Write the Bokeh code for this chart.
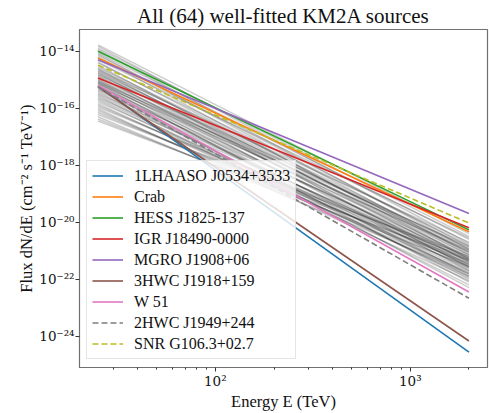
import numpy as np
from bokeh.plotting import figure
from bokeh.models import Range1d, FixedTicker, CustomJSTickFormatter, Legend, LegendItem
from bokeh.embed import file_html
from bokeh.resources import INLINE

# Energy span of every fitted spectrum (TeV)
energy = [25.0, 2000.0]

# Highlighted sources: log10 flux at 25 TeV and at 2000 TeV
names = ["1LHAASO J0534+3533", "Crab", "HESS J1825-137", "IGR J18490-0000",
         "MGRO J1908+06", "3HWC J1918+159", "W 51", "2HWC J1949+244", "SNR G106.3+02.7"]
log_flux_lo = [-15.22, -14.24, -14.00, -14.94, -14.30, -15.25, -15.20, -15.25, -14.49]
log_flux_hi = [-24.56, -20.34, -20.27, -20.20, -19.70, -24.17, -22.45, -22.67, -20.03]
colors = ["#1f77b4", "#ff7f0e", "#2ca02c", "#d62728", "#9467bd",
          "#8c564b", "#e377c2", "#7f7f7f", "#bcbd22"]
dashes = ["solid"] * 7 + ["6 3", "6 3"]

# Remaining sources (gray): log10 flux at 25 TeV and 2000 TeV
gray_lo = [-13.78, -13.83, -13.90, -13.95, -14.06, -14.10, -14.15, -14.20, -14.30, -14.38,
           -14.42, -14.50, -14.55, -14.60, -14.63, -14.67, -14.70, -14.74, -14.77, -14.80,
           -14.84, -14.87, -14.90, -14.97, -15.00, -15.03, -15.06, -15.08, -15.10, -15.12,
           -15.15, -15.18, -15.22, -15.26, -15.30, -15.34, -15.38, -15.43, -15.48, -15.52,
           -15.57, -15.62, -15.67, -15.72, -15.78, -15.84, -15.90, -15.96, -16.02, -16.08,
           -16.15, -16.22, -16.30, -16.38, -16.45]
gray_hi = [-20.40, -20.75, -20.50, -20.95, -20.60, -21.10, -20.85, -21.30, -20.55, -21.15,
           -20.80, -21.40, -20.95, -21.05, -21.60, -20.70, -21.25, -21.00, -21.50, -21.15,
           -20.90, -21.70, -21.30, -21.05, -21.55, -21.20, -21.85, -20.85, -21.40, -22.10,
           -21.00, -21.90, -21.35, -21.65, -22.30, -21.25, -21.55, -22.00, -21.45, -21.80,
           -22.20, -21.35, -21.70, -21.95, -21.50, -21.90, -21.60, -21.30, -22.05, -21.75,
           -21.45, -21.20, -21.80, -21.55, -21.35]

x_major = [100, 1000]
x_minor = [20, 30, 40, 50, 60, 70, 80, 90, 200, 300, 400, 500, 600, 700, 800, 900, 2000]
y_major = [1e-24, 1e-22, 1e-20, 1e-18, 1e-16, 1e-14]

FONT = "Liberation Serif"
TICK_FONT = "DejaVu Serif"

p = figure(width=489, height=413, x_axis_type="log", y_axis_type="log",
           x_range=Range1d(20.1, 2490.0), y_range=Range1d(10 ** -25.1, 10 ** -13.24),
           output_backend="svg", toolbar_location=None,
           title="All (64) well-fitted KM2A sources",
           min_border_left=79, min_border_right=2, min_border_top=28, min_border_bottom=45)

p.title.align = "center"
p.title.text_font = FONT
p.title.text_font_size = "21px"
p.title.text_font_style = "normal"
p.title.standoff = 3
p.title.text_color = "#111111"

p.xgrid.visible = False
p.ygrid.visible = False
p.outline_line_color = "#707070"
p.outline_line_width = 1.2

# gray lines
xs = [energy for _ in gray_lo]
ys = [[10 ** a, 10 ** b] for a, b in zip(gray_lo, gray_hi)]
p.multi_line(xs, ys, line_color="black", line_alpha=0.2, line_width=1.5)

items = []
for n, a, b, c, d in zip(names, log_flux_lo, log_flux_hi, colors, dashes):
    r = p.line(energy, [10 ** a, 10 ** b], line_color=c, line_width=1.6, line_dash=d)
    items.append(LegendItem(label=n, renderers=[r]))

legend = Legend(items=items, location=(7, 8))
legend.label_text_font = FONT
legend.label_text_font_size = "16px"
legend.label_text_color = "#111111"
legend.glyph_width = 31
legend.glyph_height = 19
legend.label_height = 19
legend.label_standoff = 11
legend.spacing = 2
legend.padding = 5
legend.margin = 0
legend.border_line_color = "#cccccc"
legend.border_line_width = 1
legend.background_fill_color = "white"
legend.background_fill_alpha = 0.8
p.add_layout(legend)

fmt = CustomJSTickFormatter(code="""
const e = Math.round(Math.log10(tick));
const sup = {'-':'\u207b','0':'\u2070','1':'\u00b9','2':'\u00b2','3':'\u00b3','4':'\u2074',
             '5':'\u2075','6':'\u2076','7':'\u2077','8':'\u2078','9':'\u2079'};
return '10' + String(e).split('').map(c => sup[c]).join('');
""")

p.xaxis.ticker = FixedTicker(ticks=x_major, minor_ticks=x_minor)
p.yaxis.ticker = FixedTicker(ticks=y_major, minor_ticks=[])
for ax in (p.xaxis[0], p.yaxis[0]):
    ax.formatter = fmt
    ax.axis_line_color = "#707070"
    ax.major_tick_line_color = "#333333"
    ax.minor_tick_line_color = "#333333"
    ax.major_tick_in = 0
    ax.major_tick_out = 4
    ax.minor_tick_in = 0
    ax.minor_tick_out = 2
    ax.major_label_text_font = TICK_FONT
    ax.major_label_text_font_size = "13.5px"
    ax.major_label_text_color = "#111111"
    ax.major_label_standoff = 1
    ax.axis_label_text_font = FONT
    ax.axis_label_text_font_size = "16.5px"
    ax.axis_label_text_font_style = "normal"
    ax.axis_label_text_color = "#111111"
    ax.axis_label_standoff = 0

p.xaxis.axis_label = "Energy E (TeV)"
p.yaxis.axis_label = "Flux dN/dE (cm\u207b\u00b2 s\u207b\u00b9 TeV\u207b\u00b9)"

open("out.html", "w").write(file_html(p, INLINE))
